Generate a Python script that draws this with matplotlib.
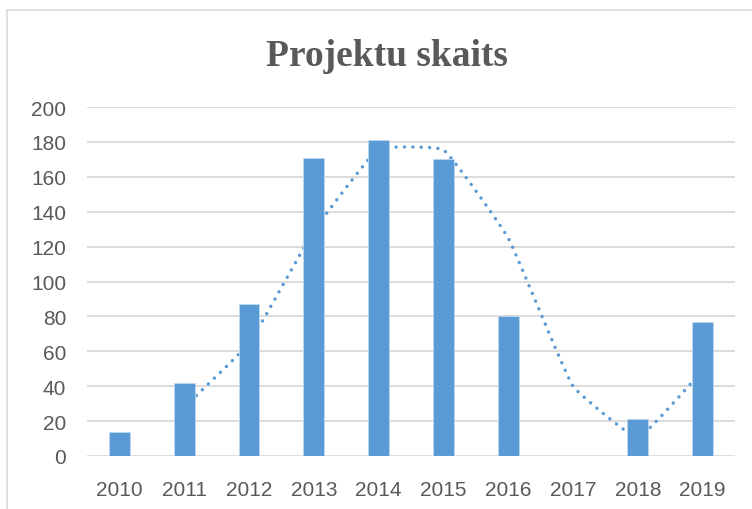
import numpy as np
import pandas as pd
import matplotlib
matplotlib.use("Agg")
import matplotlib.pyplot as plt
from matplotlib.lines import Line2D

years = ["2010", "2011", "2012", "2013", "2014", "2015", "2016", "2017", "2018", "2019"]
counts = [14, 42, 87, 171, 181, 170, 80, 0, 21, 77]

# 2-period moving average trendline (as in the Excel chart)
trend = pd.Series(counts, dtype=float).rolling(2).mean()

BAR_COLOR = "#5B9BD5"
TEXT_COLOR = "#595959"
GRID_COLOR = "#D9D9D9"


def smooth_curve(x, y, sx, sy, tension=0.1, n=40):
    # light Bezier smoothing of the polyline, done in pixel space
    pts = np.column_stack([np.asarray(x, float) * sx, np.asarray(y, float) * sy])
    ext = np.vstack([pts[0], pts, pts[-1]])
    d = np.linalg.norm(np.diff(ext, axis=0), axis=1)
    out = []
    t = np.linspace(0, 1, n)[:, None]
    for i in range(len(pts) - 1):
        p0, p1, p2, p3 = ext[i], ext[i + 1], ext[i + 2], ext[i + 3]
        d0, d1, d2 = d[i], d[i + 1], d[i + 2]
        c1 = p1 + (p2 - p0) * d1 / (d0 + d1) * tension
        c2 = p2 - (p3 - p1) * d1 / (d1 + d2) * tension
        seg = (1 - t) ** 3 * p1 + 3 * (1 - t) ** 2 * t * c1 + 3 * (1 - t) * t ** 2 * c2 + t ** 3 * p2
        out.append(seg if i == 0 else seg[1:])
    c = np.vstack(out)
    return c[:, 0] / sx, c[:, 1] / sy


fig = plt.figure(figsize=(7.52, 5.10), dpi=100)
ax = fig.add_axes([87 / 752, 53 / 510, 648 / 752, 349 / 510])

x = np.arange(len(years))
ax.bar(x, counts, width=0.32, color=BAR_COLOR, edgecolor="#BDD7EE", linewidth=0.6, zorder=3)

mask = trend.notna().values
tx, ty = smooth_curve(x[mask], trend[mask].values, 64.8, 1.745)
ax.plot(tx, ty, color=BAR_COLOR, lw=2.5, linestyle=(0, (0.01, 2.4)),
        dash_capstyle="round", zorder=2)

ax.set_xlim(-0.5, len(years) - 0.5)
ax.set_ylim(0, 200)
ax.set_yticks(range(0, 201, 20))
ax.set_xticks(x)
ax.set_xticklabels(years)
ax.yaxis.grid(True, color=GRID_COLOR, lw=1.3)
ax.set_axisbelow(True)
for s in ax.spines.values():
    s.set_visible(False)
ax.tick_params(axis="both", length=0, colors=TEXT_COLOR, labelsize=15)
ax.tick_params(axis="y", pad=15)
ax.tick_params(axis="x", pad=17)
for lbl in ax.get_xticklabels() + ax.get_yticklabels():
    lbl.set_fontfamily("Liberation Sans")

fig.text(0.515, 1 - 56 / 510, "Projektu skaits", ha="center", va="center",
         fontsize=27, fontweight="bold", family="Liberation Serif", color=TEXT_COLOR)

# chart area border (cropped on the right and bottom)
bx, by = 7 / 752, 1 - 11 / 510
fig.add_artist(Line2D([bx, bx], [0, by], color=GRID_COLOR, lw=1.2, transform=fig.transFigure))
fig.add_artist(Line2D([bx, 1], [by, by], color=GRID_COLOR, lw=1.2, transform=fig.transFigure))

fig.savefig("out.png", dpi=100, facecolor="white")
